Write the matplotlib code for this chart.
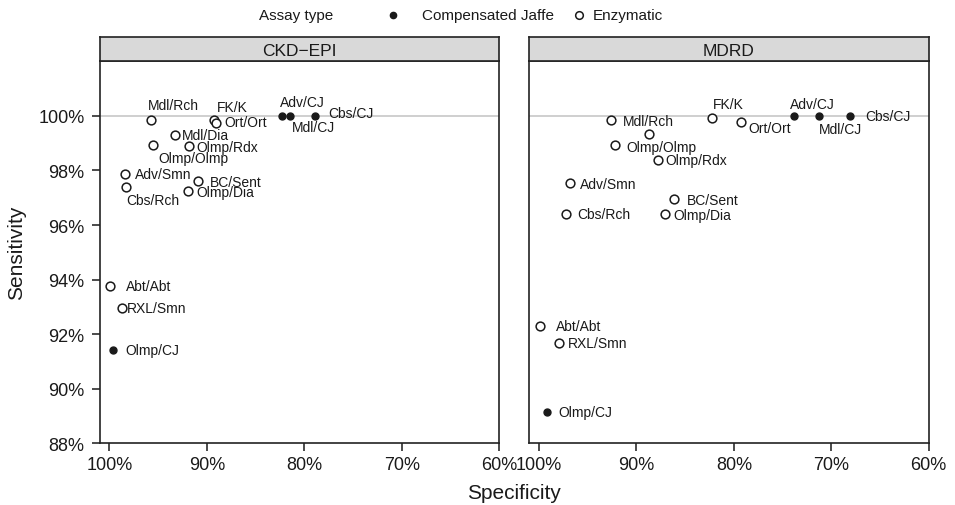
import matplotlib
matplotlib.use("Agg")
import matplotlib.pyplot as plt
import matplotlib.lines as mlines
from matplotlib.ticker import PercentFormatter

plt.rcParams['font.family'] = ['Liberation Sans', 'DejaVu Sans']

# assay pairs (analyser/reagent) and their assay type
assays = ["Mdl/Rch", "FK/K", "Ort/Ort", "Adv/CJ", "Mdl/CJ", "Cbs/CJ", "Mdl/Dia",
          "Olmp/Olmp", "Olmp/Rdx", "Adv/Smn", "Cbs/Rch", "BC/Sent", "Olmp/Dia",
          "Abt/Abt", "RXL/Smn", "Olmp/CJ"]
assay_type = ["Enzymatic", "Enzymatic", "Enzymatic", "Compensated Jaffe",
              "Compensated Jaffe", "Compensated Jaffe", "Enzymatic", "Enzymatic",
              "Enzymatic", "Enzymatic", "Enzymatic", "Enzymatic", "Enzymatic",
              "Enzymatic", "Enzymatic", "Compensated Jaffe"]

# values in percent
ckd_spec = [95.72, 89.25, 89.05, 82.30, 81.45, 78.85, 93.25, 95.48, 91.79,
            98.39, 98.29, 90.92, 91.95, 99.98, 98.73, 99.59]
ckd_sens = [99.85, 99.86, 99.74, 100.0, 100.0, 100.0, 99.31, 98.95, 98.89,
            97.86, 97.39, 97.63, 97.25, 93.78, 92.95, 91.43]
mdrd_spec = [92.58, 82.24, 79.26, 73.86, 71.25, 68.07, 88.68, 92.17, 87.75,
             96.86, 97.27, 86.14, 87.10, 99.94, 97.95, 99.15]
mdrd_sens = [99.84, 99.92, 99.78, 100.0, 100.0, 100.0, 99.35, 98.93, 98.39,
             97.55, 96.42, 96.97, 96.41, 92.31, 91.66, 89.16]

panels = ["CKD\u2212EPI", "MDRD"]
x_ticks = [100, 90, 80, 70, 60]
y_ticks = [88, 90, 92, 94, 96, 98, 100]

# label placement (pixel offset dx, dy downwards, alignment) - hand tuned like ggrepel
ckd_lab = [(22, -15, "center"), (18, -13, "center"), (8, -1, "left"), (20, -14, "center"),
           (23, 11, "center"), (13, -3, "left"), (7, 0, "left"), (40, 13, "center"),
           (7, 1, "left"), (10, 0, "left"), (27, 13, "center"), (12, 1, "left"),
           (9, 1, "left"), (16, 0, "left"), (5, 0, "left"), (12, 0, "left")]
mdrd_lab = [(12, 1, "left"), (16, -14, "center"), (7, 6, "left"), (19, -12, "center"),
            (21, 13, "center"), (15, 0, "left"), None, (11, 2, "left"),
            (7, 0, "left"), (10, 1, "left"), (12, 0, "left"), (13, 1, "left"),
            (9, 1, "left"), (16, 0, "left"), (9, 0, "left"), (11, 0, "left")]

W, H = 955, 506
fig = plt.figure(figsize=(W / 100, H / 100), dpi=100)


def fx(px):
    return px / W


def fy(py):
    return 1 - py / H


dark = "#1a1a1a"


def draw_panel(left_px, spec, sens, labels, title, show_y):
    ax = fig.add_axes([fx(left_px), fy(444.3), fx(399.4), 382 / H])
    ax.axhline(100, color="#cccccc", lw=1.3, zorder=1)
    for s, se, t, lab, name in zip(spec, sens, assay_type, labels, assays):
        if t == "Compensated Jaffe":
            ax.plot(s, se, "o", ms=5, color=dark, mec=dark, zorder=3)
        else:
            ax.plot(s, se, "o", ms=6.3, mfc="white", mec=dark, mew=1.1, zorder=3)
        if lab is None:
            continue
        dx, dy, ha = lab
        ax.annotate(name, (s, se), xytext=(dx, -dy), textcoords="offset pixels",
                    ha=ha, va="center", fontsize=10, color=dark, zorder=4)
    ax.set_xlim(101.0, 60)
    ax.set_ylim(88, 102)
    ax.set_xticks(x_ticks)
    ax.set_yticks(y_ticks)
    ax.xaxis.set_major_formatter(PercentFormatter(100, decimals=0))
    ax.yaxis.set_major_formatter(PercentFormatter(100, decimals=0))
    ax.tick_params(axis="both", direction="out", length=6, width=1.1,
                   labelsize=13, colors=dark)
    ax.tick_params(axis="x", pad=3)
    ax.tick_params(axis="y", pad=5)
    if not show_y:
        ax.tick_params(axis="y", left=False, labelleft=False)
    for sp in ax.spines.values():
        sp.set_color("#222222")
        sp.set_linewidth(1.2)

    # facet strip
    st = fig.add_axes([fx(left_px), fy(62.3), fx(399.4), 24.3 / H])
    st.set_facecolor("#d9d9d9")
    st.set_xticks([])
    st.set_yticks([])
    for sp in st.spines.values():
        sp.set_color("#222222")
        sp.set_linewidth(1.2)
    st.text(0.5, 0.45, title, ha="center", va="center", fontsize=12.5,
            color=dark, transform=st.transAxes)
    return ax


draw_panel(99.7, ckd_spec, ckd_sens, ckd_lab, panels[0], True)
draw_panel(529.3, mdrd_spec, mdrd_sens, mdrd_lab, panels[1], False)

fig.text(fx(514.2), fy(494), "Specificity", ha="center", va="center", fontsize=15, color=dark)
fig.text(fx(17), fy(253.3), "Sensitivity", ha="center", va="center", rotation=90,
         fontsize=15, color=dark)

# legend on top
fig.text(fx(259), fy(16), "Assay type", ha="left", va="center", fontsize=11, color=dark)
fig.add_artist(mlines.Line2D([fx(393)], [fy(16)], marker="o", ms=4.5, color=dark,
                             linestyle="None", transform=fig.transFigure))
fig.text(fx(422), fy(16), "Compensated Jaffe", ha="left", va="center", fontsize=11, color=dark)
fig.add_artist(mlines.Line2D([fx(579)], [fy(16)], marker="o", ms=5.5, mfc="white",
                             mec=dark, mew=1.1, linestyle="None", transform=fig.transFigure))
fig.text(fx(593), fy(16), "Enzymatic", ha="left", va="center", fontsize=11, color=dark)

fig.savefig("out.png", dpi=100)
